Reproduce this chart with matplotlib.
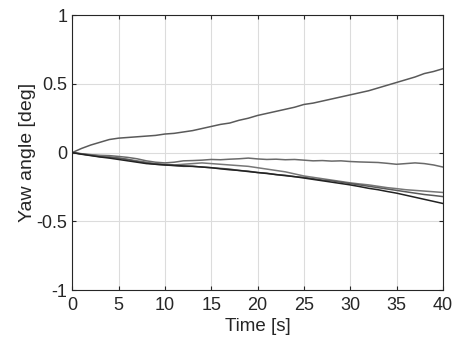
import numpy as np
import matplotlib
matplotlib.use('Agg')
import matplotlib.pyplot as plt

plt.rcParams['font.family'] = ['Liberation Sans', 'DejaVu Sans']

# time axis [s]
time = list(range(0, 41))

# yaw angle runs [deg]
yaw_up = [0, 0.03, 0.055, 0.075, 0.095, 0.105, 0.11, 0.115, 0.12, 0.125, 0.135,
          0.14, 0.15, 0.16, 0.175, 0.19, 0.205, 0.215, 0.235, 0.25, 0.27,
          0.285, 0.30, 0.315, 0.33, 0.35, 0.36, 0.375, 0.39, 0.405, 0.42,
          0.435, 0.45, 0.47, 0.49, 0.51, 0.53, 0.55, 0.575, 0.59, 0.61]
yaw_flat = [0, -0.008, -0.015, -0.02, -0.022, -0.028, -0.035, -0.045, -0.06, -0.07, -0.075,
            -0.07, -0.06, -0.058, -0.055, -0.05, -0.052, -0.048, -0.045, -0.04, -0.046,
            -0.05, -0.048, -0.052, -0.05, -0.055, -0.06, -0.058, -0.062, -0.06, -0.065,
            -0.068, -0.07, -0.072, -0.078, -0.085, -0.08, -0.075, -0.08, -0.09, -0.105]
yaw_a = [0, -0.01, -0.018, -0.025, -0.03, -0.04, -0.05, -0.06, -0.07, -0.08, -0.085,
         -0.09, -0.085, -0.08, -0.075, -0.08, -0.085, -0.09, -0.095, -0.1, -0.11,
         -0.12, -0.13, -0.14, -0.155, -0.17, -0.18, -0.19, -0.2, -0.21, -0.22,
         -0.228, -0.235, -0.245, -0.255, -0.262, -0.27, -0.275, -0.28, -0.285, -0.29]
yaw_b = [0, -0.01, -0.02, -0.03, -0.035, -0.04, -0.05, -0.065, -0.075, -0.085, -0.09,
         -0.095, -0.1, -0.1, -0.105, -0.11, -0.115, -0.12, -0.13, -0.135, -0.145,
         -0.15, -0.16, -0.165, -0.175, -0.18, -0.19, -0.2, -0.205, -0.215, -0.225,
         -0.235, -0.245, -0.255, -0.265, -0.275, -0.285, -0.295, -0.305, -0.312, -0.32]
yaw_c = [0, -0.012, -0.022, -0.032, -0.04, -0.05, -0.06, -0.07, -0.08, -0.085, -0.09,
         -0.093, -0.097, -0.1, -0.105, -0.11, -0.118, -0.125, -0.13, -0.138, -0.145,
         -0.152, -0.16, -0.168, -0.175, -0.185, -0.195, -0.205, -0.215, -0.225, -0.235,
         -0.247, -0.26, -0.27, -0.283, -0.295, -0.31, -0.325, -0.34, -0.355, -0.37]

fig = plt.figure(figsize=(4.57, 3.52), dpi=100)
ax = fig.add_axes([0.158, 0.176, 0.811, 0.781])

ax.plot(time, yaw_up, color='#5a5a5a', lw=1.1)
ax.plot(time, yaw_flat, color='#6a6a6a', lw=1.1)
ax.plot(time, yaw_a, color='#777777', lw=1.1)
ax.plot(time, yaw_b, color='#5a5a5a', lw=1.1)
ax.plot(time, yaw_c, color='#222222', lw=1.1)

ax.set_xlim(0, 40)
ax.set_ylim(-1, 1)
ax.set_xticks(range(0, 41, 5))
ax.set_yticks([-1, -0.5, 0, 0.5, 1])
ax.set_yticklabels(['-1', '-0.5', '0', '0.5', '1'])
ax.grid(True, color='#dcdcdc', lw=0.8)
ax.tick_params(direction='in', top=True, right=True, labelsize=13, colors='#262626', length=3)
ax.tick_params(axis='x', pad=5)
for s in ax.spines.values():
    s.set_color('#262626')
    s.set_linewidth(0.8)
ax.set_xlabel('Time [s]', fontsize=13.5, color='#262626', labelpad=3)
ax.set_ylabel('Yaw angle [deg]', fontsize=14, color='#262626', labelpad=0)

fig.savefig('out.png', dpi=100)
